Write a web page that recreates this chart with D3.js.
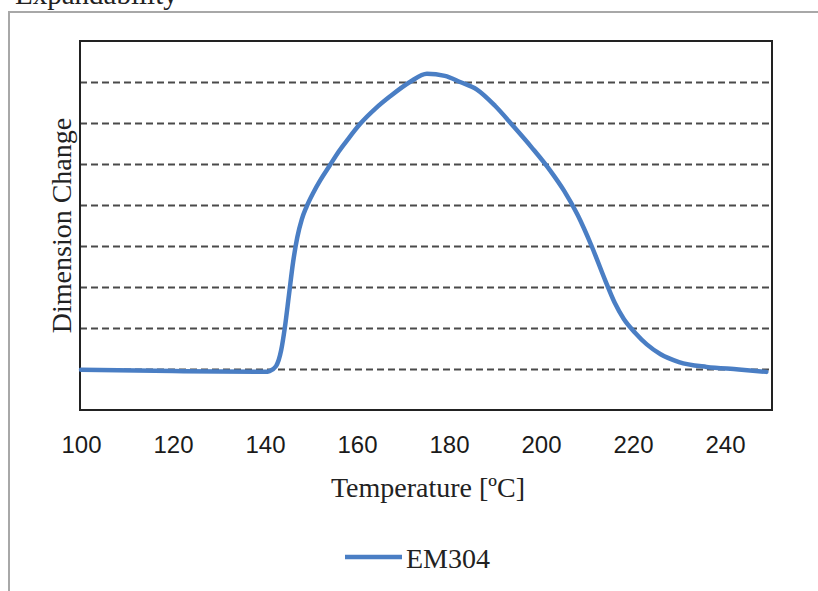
<!DOCTYPE html>
<html>
<head>
<meta charset="utf-8">
<script src="https://cdn.jsdelivr.net/npm/d3@7.9.0/dist/d3.min.js"></script>
<style>
  html, body { margin: 0; padding: 0; background: #fff; }
  svg { display: block; }
  .tick text { font-family: "Liberation Sans", Arial, sans-serif; }
</style>
</head>
<body>
<svg id="chart" width="818" height="591"></svg>
<script>
// ---- data ----
const temps = [100, 120, 140, 141, 142.4, 143.5, 144.3, 145.2, 146.1, 147, 148, 149, 150.5, 152, 154, 156, 158,
  160.7, 164, 167.2, 171.5, 175.2, 179.1, 182.4, 186, 190, 194, 198, 202, 205, 208, 211, 214, 216,
  218, 220.5, 223, 226, 230, 236, 243, 249];
const dimChange = [0.98, 0.95, 0.93, 0.95, 1.07, 1.45, 2.0, 2.8, 3.6, 4.2, 4.65, 4.95, 5.3, 5.6, 5.95, 6.3, 6.6,
  6.98, 7.35, 7.65, 8.0, 8.2, 8.15, 8.0, 7.82, 7.42, 6.92, 6.4, 5.84, 5.35, 4.75, 4.0, 3.15, 2.62,
  2.22, 1.88, 1.6, 1.36, 1.17, 1.05, 0.99, 0.93];
const xTicks = [100, 120, 140, 160, 180, 200, 220, 240];
const gridValues = [1, 2, 3, 4, 5, 6, 7, 8];
const seriesName = "EM304";

const svg = d3.select("#chart");
const plotLeft = 80, plotRight = 772, plotTop = 41, plotBottom = 410;
const lineColor = "#4a7ec4";

// outer box (only top and left edges show)
svg.append("path")
  .attr("d", `M9,600 L9,12 L830,12`)
  .attr("fill", "none")
  .attr("stroke", "#a8a8a8")
  .attr("stroke-width", 2);

// title, mostly cut off at the top
svg.append("text")
  .attr("x", 15)
  .attr("y", 4)
  .attr("font-family", "'Liberation Serif', 'Times New Roman', serif")
  .attr("font-size", 29)
  .attr("fill", "#222")
  .text("Expandability");

let x = d3.scaleLinear().domain([100, 250]).range([81, 771]);
let y = d3.scaleLinear().domain([0, 9]).range([plotBottom, plotTop]);

// dashed gridlines
svg.append("g")
  .attr("transform", `translate(${plotLeft},0)`)
  .call(d3.axisLeft(y).tickValues(gridValues).tickSize(-(plotRight - plotLeft)).tickFormat(""))
  .call((g) => g.select(".domain").remove())
  .call((g) => g.selectAll(".tick line")
    .attr("stroke", "#4a4a4a")
    .attr("stroke-width", 2)
    .attr("stroke-dasharray", "7,4"));

// frame
svg.append("rect")
  .attr("x", plotLeft)
  .attr("y", plotTop)
  .attr("width", plotRight - plotLeft)
  .attr("height", plotBottom - plotTop)
  .attr("fill", "none")
  .attr("stroke", "#222")
  .attr("stroke-width", 2);

// x axis labels
svg.append("g")
  .attr("transform", `translate(0,${plotBottom})`)
  .call(d3.axisBottom(x).tickValues(xTicks).tickSize(0).tickPadding(26))
  .call((g) => g.select(".domain").remove())
  .call((g) => g.selectAll(".tick text")
    .attr("font-size", 24)
    .attr("fill", "#1a1a1a"));

// the curve
let points = temps.map((t, i) => [t, dimChange[i]]);
let lineGen = d3.line()
  .x((d) => x(d[0]))
  .y((d) => y(d[1]))
  .curve(d3.curveMonotoneX);

svg.append("path")
  .datum(points)
  .attr("d", lineGen)
  .attr("fill", "none")
  .attr("stroke", lineColor)
  .attr("stroke-width", 4.5)
  .attr("stroke-linejoin", "round")
  .attr("stroke-linecap", "round");

// axis titles
svg.append("text")
  .attr("x", 428)
  .attr("y", 497)
  .attr("text-anchor", "middle")
  .attr("font-family", "'Liberation Serif', 'Times New Roman', serif")
  .attr("font-size", 28)
  .attr("fill", "#222")
  .text("Temperature [ºC]");

svg.append("text")
  .attr("transform", `translate(71,${(plotTop + plotBottom) / 2}) rotate(-90)`)
  .attr("text-anchor", "middle")
  .attr("font-family", "'Liberation Serif', 'Times New Roman', serif")
  .attr("font-size", 28)
  .attr("fill", "#222")
  .text("Dimension Change");

// legend
let legend = svg.append("g");
legend.append("line")
  .attr("x1", 345).attr("x2", 402)
  .attr("y1", 557).attr("y2", 557)
  .attr("stroke", lineColor)
  .attr("stroke-width", 4.5);
legend.append("text")
  .attr("x", 406)
  .attr("y", 568)
  .attr("font-family", "'Liberation Serif', 'Times New Roman', serif")
  .attr("font-size", 28)
  .attr("fill", "#222")
  .text(seriesName);
</script>
</body>
</html>
